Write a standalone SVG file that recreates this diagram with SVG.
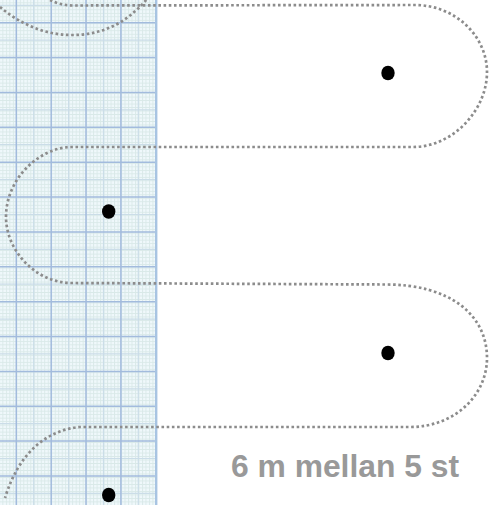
<svg xmlns="http://www.w3.org/2000/svg" width="491" height="505" viewBox="0 0 491 505">
<defs>
<pattern id="fine" patternUnits="userSpaceOnUse" x="-1.1" y="-1.1" width="3.49" height="3.49"><rect width="3.49" height="3.49" fill="#eff8fb"/><path d="M0.5 0V3.49M0 0.5H3.49" stroke="#d9e9e8" stroke-width="0.9"/></pattern>
</defs>
<style>
.lane{fill:none;stroke:#8c8c8c;stroke-width:2.7;stroke-dasharray:2.6 2.6}
.dot{fill:#000}
.mid{fill:none;stroke:#cbdde8;stroke-width:1.2}
.maj{fill:none;stroke:#a2bbdd;stroke-width:1.500}
.t{font:bold 32px "Liberation Sans",Arial,sans-serif;fill:#999}
</style>
<rect width="491" height="505" fill="#fff"/>
<g id="grid"><rect width="156" height="505" fill="url(#fine)"/>
<path class="mid" d="M33.700 0V505M68.600 0V505M103.500 0V505M138.300 0V505M0 5.300H156M0 40.100H156M0 75H156M0 109.900H156M0 144.700H156M0 179.600H156M0 214.500H156M0 249.300H156M0 284.200H156M0 319.100H156M0 353.900H156M0 388.800H156M0 423.700H156M0 458.500H156M0 493.400H156"/>
<path class="maj" d="M16.300 0V505M51.200 0V505M86 0V505M120.900 0V505M0 22.700H156M0 57.600H156M0 92.400H156M0 127.300H156M0 162.200H156M0 197H156M0 231.900H156M0 266.800H156M0 301.700H156M0 336.500H156M0 371.400H156M0 406.300H156M0 441.100H156M0 476H156"/>
<rect x="155" width="2.400" height="505" fill="#a8c4e2"/></g>
<g id="connectors">
<path class="lane" d="M50 0C56 3 62 5 72 5.500L415 5C455 5 487 36 487 72C487 110 453 147 413 147L72 147C40 147 6 178 6 217C6 250 35 283 72 283L385 284.500C450 284 487 315 487 358C487 395 455 427 410 427L80 427C45 430 18 455 5 498"/>
<path class="lane" d="M0 7C18 22 42 35 72 35C100 35 125 25 147 -1"/>
</g>
<g id="node-1"><ellipse class="dot" cx="388" cy="73" rx="6.700" ry="7.300"/></g>
<g id="node-2"><ellipse class="dot" cx="108.700" cy="211.500" rx="6.700" ry="7.300"/></g>
<g id="node-3"><ellipse class="dot" cx="388" cy="353" rx="6.700" ry="7.300"/></g>
<g id="node-4"><ellipse class="dot" cx="108.700" cy="495" rx="6.700" ry="7.300"/></g>
<text class="t" x="231" y="476.500" textLength="228" lengthAdjust="spacingAndGlyphs">6 m mellan 5 st</text>
</svg>
